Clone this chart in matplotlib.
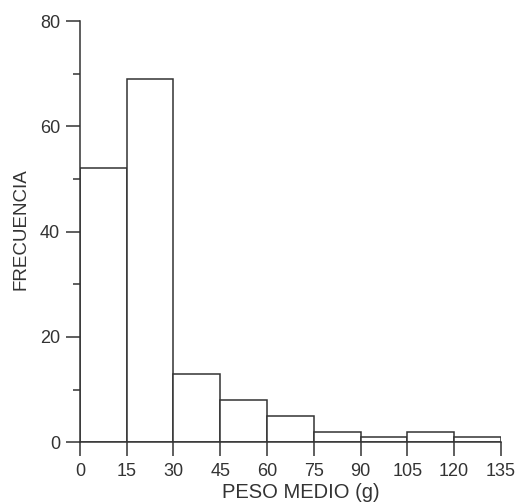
import matplotlib.pyplot as plt
import numpy as np
from matplotlib.ticker import MultipleLocator

plt.rcParams['font.family'] = ['Liberation Sans', 'DejaVu Sans']

bin_edges = [0, 15, 30, 45, 60, 75, 90, 105, 120, 135]
frecuencia = [52, 69, 13, 8, 5, 2, 1, 2, 1]
y_ticks = [0, 20, 40, 60, 80]

ink = '#333333'

fig = plt.figure(figsize=(5.19, 5.03), dpi=100)
ax = fig.add_axes([0.154, 0.121, 0.811, 0.837])

widths = np.diff(bin_edges)
ax.bar(bin_edges[:-1], frecuencia, width=widths, align='edge',
       facecolor='white', edgecolor=ink, linewidth=1.1, zorder=2)

ax.set_xlim(0, 135)
ax.set_ylim(0, 80)
ax.set_xticks(bin_edges)
ax.set_yticks(y_ticks)
ax.yaxis.set_minor_locator(MultipleLocator(10))

for side in ['top', 'right']:
    ax.spines[side].set_visible(False)
for side in ['left', 'bottom']:
    ax.spines[side].set_color(ink)
    ax.spines[side].set_linewidth(1.1)
    ax.spines[side].set_zorder(3)

ax.tick_params(axis='both', which='major', length=9.8, width=1.1,
               color=ink, labelcolor=ink, labelsize=13)
ax.tick_params(axis='x', which='major', pad=5)
ax.tick_params(axis='y', which='major', pad=4.5)
ax.tick_params(axis='y', which='minor', length=5, width=1.1, color=ink)

ax.set_xlabel('PESO MEDIO (g)', fontsize=14.5, color=ink)
ax.xaxis.label.set_va('baseline')
ax.xaxis.set_label_coords(0.525, -0.132)

ax.set_ylabel('FRECUENCIA', fontsize=13.5, color=ink)
ax.yaxis.label.set_va('center')
ax.yaxis.set_label_coords(-0.141, 0.506)

fig.savefig('out.png', dpi=100)
